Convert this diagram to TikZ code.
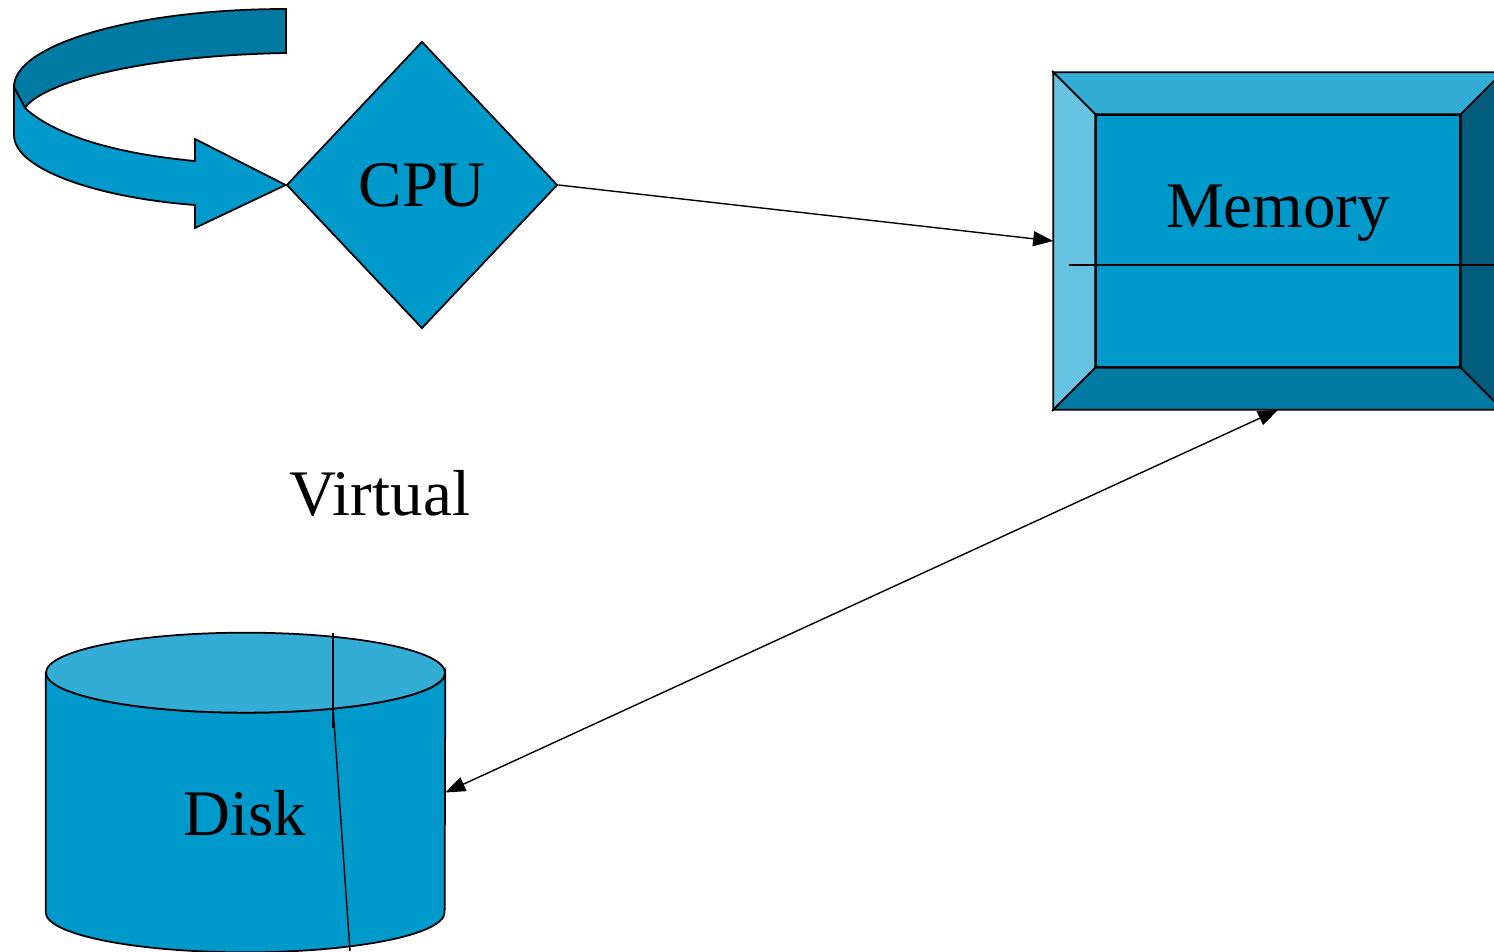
\documentclass[tikz,border=0pt]{standalone}
\usepackage{fontspec}
\setmainfont{Liberation Serif}
\usetikzlibrary{positioning,shapes.geometric,arrows.meta}

\definecolor{memfill}{RGB}{0,153,204}
\definecolor{bevtop}{RGB}{51,173,214}
\definecolor{bevleft}{RGB}{102,194,224}
\definecolor{bevbottom}{RGB}{0,122,163}
\definecolor{bevright}{RGB}{0,92,122}

\begin{document}
\begin{tikzpicture}[
  x=0.02cm, y=0.02cm,
  font=\fontsize{37}{44}\selectfont,
  outline/.style={draw=black,line width=1pt,line join=miter},
  cpunode/.style={outline,diamond,fill=memfill,minimum width=5.42cm,minimum height=5.74cm,inner sep=0pt},
  memnode/.style={outline,rectangle,fill=memfill,minimum width=8.96cm,minimum height=6.72cm,inner sep=0pt},
  meminner/.style={outline,rectangle,minimum width=7.28cm,minimum height=5.04cm,inner sep=0pt},
  disknode/.style={rectangle,minimum width=7.98cm,minimum height=4.78cm,inner sep=0pt},
  link/.style={line width=0.8pt,-{Triangle[length=4mm,width=3mm]}},
  dlink/.style={line width=0.8pt,{Triangle[length=4mm,width=3mm]}-{Triangle[length=4mm,width=3mm]}}
]
\useasboundingbox (0,0) rectangle (1494,951);
\clip (0,0) rectangle (1494,951);

\node[cpunode] (cpu) at (422,766) {CPU};
\node[memnode] (mem) at (1278,710) {};
\node[disknode] (disk) at (245.5,158.5) {};

% loop arrow into the cpu
\fill[bevbottom,outline] (286,942) .. controls (136,942) and (14,907) .. (14,864)
  -- (25,843) .. controls (40,866) and (130,895) .. (286,898) -- cycle;
\fill[memfill,outline] (14,864) -- (25,843) .. controls (60,811) and (130,796) .. (195,790)
  -- (195,812) -- (cpu.west) -- (195,723) -- (195,746)
  .. controls (100,753) and (14,781) .. (14,816) -- cycle;

% bevelled memory block
\node[meminner] (memin) at (mem.center) {};
\filldraw[outline,fill=bevtop] (mem.north west) -- (mem.north east) -- (memin.north east) -- (memin.north west) -- cycle;
\filldraw[outline,fill=bevleft] (mem.north west) -- (memin.north west) -- (memin.south west) -- (mem.south west) -- cycle;
\filldraw[outline,fill=bevbottom] (mem.south west) -- (memin.south west) -- (memin.south east) -- (mem.south east) -- cycle;
\filldraw[outline,fill=bevright] (mem.north east) -- (memin.north east) -- (memin.south east) -- (mem.south east) -- cycle;
\draw[line width=0.8pt] (1069,686) -- (1502,686);
\node[anchor=base] (memlabel) at (1278,723) {Memory};

% disk drum
\filldraw[outline,fill=memfill] (disk.north west) -- (disk.south west)
  arc[start angle=180,end angle=360,x radius=3.99cm,y radius=0.8cm]
  -- (disk.north east)
  arc[start angle=0,end angle=-180,x radius=3.99cm,y radius=0.8cm] -- cycle;
\filldraw[outline,fill=bevtop] (disk.north) ellipse[x radius=3.99cm,y radius=0.8cm];
\draw[line width=0.8pt] (333,318) -- (333,223);
\draw[line width=0.8pt] (333,243) -- (350,0);
\node[anchor=base] (disklabel) at (245,116) {Disk};

\node[anchor=base] (virtual) at (380,436) {Virtual};

\draw[link] (cpu.east) -- (mem.west);
\draw[dlink] (disk.east) -- (mem.south);

\end{tikzpicture}
\end{document}
